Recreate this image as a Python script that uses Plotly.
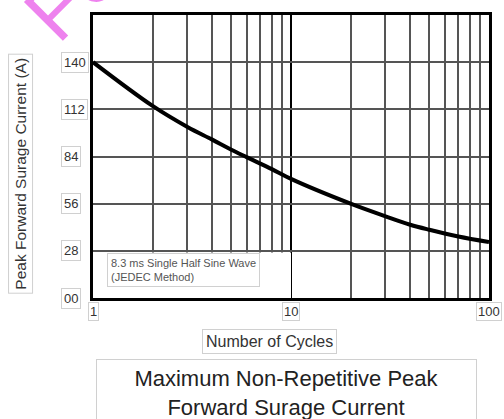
import plotly.graph_objects as go

# Data
cycles = [1, 2, 3, 4, 5, 6, 8, 10, 20, 30, 40, 50, 70, 100]
current = [140, 114, 101.5, 94, 88, 83.5, 76.5, 70.7, 56, 48.5, 43.5, 40.5, 36.5, 33.2]

y_ticks = [0, 28, 56, 84, 112, 140]
y_ticktext = ["00", "28", "56", "84", "112", "140"]
x_ticks = [1, 10, 100]
x_ticktext = ["1", "10", "100"]
x_minor = [2, 3, 4, 5, 6, 7, 8, 9, 20, 30, 40, 50, 60, 70, 80, 90]

title_text = "Maximum Non-Repetitive Peak<br>Forward Surage Current"
x_title = "Number of Cycles"
y_title = "Peak Forward Surage Current (A)"
note_text = "8.3 ms Single Half Sine Wave<br>(JEDEC Method)"
watermark = "Fo"

FONT = "Liberation Sans, Arial, sans-serif"
L, R, T, B = 93, 13, 12, 121
PW = 504 - L - R
PH = 419 - T - B


def px(xp):
    return (xp - L) / PW


def py(yp):
    return (T + PH - yp) / PH


fig = go.Figure()
fig.add_trace(go.Scatter(
    x=cycles, y=current, mode="lines",
    line=dict(color="black", width=4, shape="spline", smoothing=1.0),
    hoverinfo="skip", showlegend=False))

fig.update_xaxes(
    type="log", range=[0, 2],
    tickvals=x_ticks, showticklabels=False, ticks="",
    showgrid=True, gridcolor="black", gridwidth=2,
    minor=dict(tickvals=x_minor, showgrid=True, gridcolor="#555555", gridwidth=1.5, ticks=""),
    showline=True, linecolor="black", linewidth=2.5, mirror=True,
    zeroline=False,
)
fig.update_yaxes(
    range=[0, 168],
    tickvals=y_ticks, showticklabels=False, ticks="",
    showgrid=True, gridcolor="#555555", gridwidth=1.5,
    showline=True, linecolor="black", linewidth=2.5, mirror=True,
    zeroline=False,
)

# white region hiding grid under the note (x from 1 to 10, y from 0 to 28)
fig.add_shape(type="rect", xref="x", yref="y",
              x0=x_ticks[0], x1=x_ticks[1], y0=y_ticks[0], y1=y_ticks[1] - 1,
              fillcolor="white", line=dict(width=0), layer="between")

annotations = []
for v, t in zip(y_ticks, y_ticktext):
    annotations.append(dict(
        xref="paper", yref="y", x=px(61), y=v, text=t, showarrow=False,
        xanchor="left", yanchor="middle",
        font=dict(family=FONT, size=13, color="#333333"),
        bordercolor="#d0d0d0", borderwidth=1, borderpad=2, bgcolor="white"))
for i, (v, t) in enumerate(zip(x_ticks, x_ticktext)):
    annotations.append(dict(
        xref="x", yref="paper", x=i, y=py(312), text=t,
        showarrow=False, xanchor="center", yanchor="middle",
        font=dict(family=FONT, size=13, color="#333333"),
        bordercolor="#d0d0d0", borderwidth=1, borderpad=1, bgcolor="white"))

annotations.append(dict(
    xref="paper", yref="paper", x=px(270), y=py(342), text=x_title,
    showarrow=False, xanchor="center", yanchor="middle",
    font=dict(family=FONT, size=16, color="#333333"),
    bordercolor="#d0d0d0", borderwidth=1, borderpad=3, bgcolor="white"))

annotations.append(dict(
    xref="paper", yref="paper", x=px(20), y=py(172), text=y_title,
    textangle=-90, showarrow=False, xanchor="center", yanchor="middle",
    font=dict(family=FONT, size=15.5, color="#333333"),
    bordercolor="#d0d0d0", borderwidth=1, borderpad=3, bgcolor="white"))

annotations.append(dict(
    xref="paper", yref="paper", x=px(287), y=py(394), text=title_text,
    showarrow=False, xanchor="center", yanchor="middle", align="center",
    font=dict(family=FONT, size=22, color="#222222"),
    bordercolor="#d0d0d0", borderwidth=1, borderpad=6, bgcolor="white",
    width=367))

annotations.append(dict(
    xref="paper", yref="paper", x=px(107), y=py(270), text=note_text,
    showarrow=False, xanchor="left", yanchor="middle", align="left",
    font=dict(family=FONT, size=11, color="#555555"),
    bordercolor="#d0d0d0", borderwidth=1, borderpad=3, bgcolor="white"))

# watermark fragment in the top-left corner
annotations.append(dict(
    xref="paper", yref="paper", x=px(71), y=py(-10),
    text=watermark, textangle=-45, showarrow=False, xanchor="center", yanchor="middle",
    font=dict(family=FONT, size=80, color="#EE82EE")))

fig.update_layout(
    width=504, height=419,
    margin=dict(l=L, r=R, t=T, b=B),
    paper_bgcolor="white", plot_bgcolor="white",
    showlegend=False,
    annotations=annotations,
)

fig.write_html(
    "out.html",
    config={"displayModeBar": False},
    post_script="document.body.style.margin='0';document.body.style.overflow='hidden';",
)
